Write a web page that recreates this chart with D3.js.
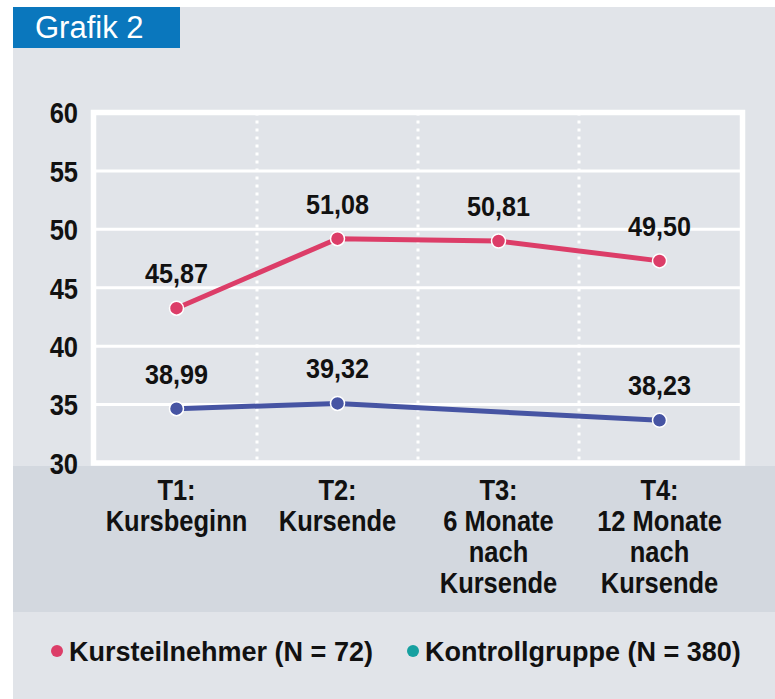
<!DOCTYPE html>
<meta charset="utf-8">
<script src="https://d3js.org/d3.v7.min.js"></script>
<style>
body { margin: 0; background: #fff; }
text { font-family: "Liberation Sans", Arial, sans-serif; }
</style>
<div id="chart"></div>
<script>
// data
var categories = [
  ["T1:", "Kursbeginn"],
  ["T2:", "Kursende"],
  ["T3:", "6 Monate", "nach", "Kursende"],
  ["T4:", "12 Monate", "nach", "Kursende"]
];
var yTicks = [30, 35, 40, 45, 50, 55, 60];
// plotted positions (as drawn) and printed labels
var teilnehmerValues = [43.25, 49.2, 49.0, 47.3];
var teilnehmerLabels = ["45,87", "51,08", "50,81", "49,50"];
var kontrollValues = [34.65, 35.1, null, 33.65];
var kontrollLabels = ["38,99", "39,32", null, "38,23"];
var legendNames = ["Kursteilnehmer (N = 72)", "Kontrollgruppe (N = 380)"];

var width = 775, height = 699;
var red = "#dc3d68", blue = "#4654a3", teal = "#16a0a0";

var svg = d3.select("#chart").append("svg")
  .attr("width", width)
  .attr("height", height);

// no condensed font installed, so squeeze text horizontally
function narrow(sel, sx, xf, yf) {
  sel.attr("transform", function(d, i){
      return "translate(" + xf(d, i) + "," + yf(d, i) + ") scale(" + sx + ",1)";
    })
    .attr("x", 0).attr("y", 0);
}

// backgrounds
svg.append("rect").attr("x", 13).attr("y", 7).attr("width", width - 13).attr("height", height - 7)
  .attr("fill", "#e1e4e9");
svg.append("rect").attr("x", 13).attr("y", 466).attr("width", width - 13).attr("height", 146)
  .attr("fill", "#d3d8df");

// title tab
svg.append("rect").attr("x", 13).attr("y", 7).attr("width", 167).attr("height", 41)
  .attr("fill", "#0a77bd");
svg.append("text").attr("x", 35).attr("y", 38)
  .attr("font-size", 31).attr("fill", "#fff").text("Grafik 2");

// scales
var x = d3.scaleBand().domain(d3.range(categories.length)).range([96, 740]);
var y = d3.scaleLinear().domain([30, 60]).range([463, 112.5]);
var cx = function(i){ return x(i) + x.bandwidth() / 2; };

// gridlines
svg.append("g").selectAll("line").data(yTicks.slice(1, -1)).enter().append("line")
  .attr("x1", 96).attr("x2", 740)
  .attr("y1", function(d){ return y(d); }).attr("y2", function(d){ return y(d); })
  .attr("stroke", "#fff").attr("stroke-width", 3);

// dotted dividers
svg.append("g").selectAll("line").data(d3.range(1, categories.length)).enter().append("line")
  .attr("x1", function(d){ return x(d); }).attr("x2", function(d){ return x(d); })
  .attr("y1", y(60)).attr("y2", y(30))
  .attr("stroke", "#fff").attr("stroke-width", 3).attr("stroke-dasharray", "3,5");

// frame
svg.append("rect").attr("x", 93.5).attr("y", y(60)).attr("width", 649).attr("height", y(30) - y(60))
  .attr("fill", "none").attr("stroke", "#fff").attr("stroke-width", 5.5);

// y tick labels
svg.append("g").selectAll("text").data(yTicks).enter().append("text")
  .attr("dy", "0.36em")
  .attr("text-anchor", "end").attr("font-size", 30).attr("font-weight", "bold")
  .attr("fill", "#111").text(function(d){ return d; })
  .call(narrow, 0.85, function(){ return 78; }, function(d){ return y(d); });

// x labels
categories.forEach(function(lines, i) {
  svg.append("text")
    .attr("transform", "translate(" + cx(i) + ",500) scale(0.85,1)")
    .attr("text-anchor", "middle").attr("font-size", 30).attr("font-weight", "bold")
    .attr("fill", "#111")
    .selectAll("tspan").data(lines).enter().append("tspan")
      .attr("x", 0)
      .attr("dy", function(d, j){ return j === 0 ? 0 : 31; })
      .text(function(d){ return d; });
});

function drawSeries(values, labels, color) {
  var pts = values.map(function(v, i){ return {i: i, v: v, label: labels[i]}; })
    .filter(function(d){ return d.v != null; });
  var line = d3.line()
    .x(function(d){ return cx(d.i); })
    .y(function(d){ return y(d.v); });
  svg.append("path").datum(pts).attr("d", line)
    .attr("fill", "none").attr("stroke", color).attr("stroke-width", 5);
  svg.append("g").selectAll("circle").data(pts).enter().append("circle")
    .attr("cx", function(d){ return cx(d.i); })
    .attr("cy", function(d){ return y(d.v); })
    .attr("r", 7).attr("fill", color).attr("stroke", "#fff").attr("stroke-width", 1.5);
  svg.append("g").selectAll("text").data(pts).enter().append("text")
    .attr("text-anchor", "middle").attr("font-size", 28).attr("font-weight", "bold")
    .attr("fill", "#111").text(function(d){ return d.label; })
    .call(narrow, 0.9, function(d){ return cx(d.i); }, function(d){ return y(d.v) - 25; });
}
drawSeries(teilnehmerValues, teilnehmerLabels, red);
drawSeries(kontrollValues, kontrollLabels, blue);

// legend
var legend = [
  {name: legendNames[0], color: red, x: 57},
  {name: legendNames[1], color: teal, x: 413}
];
var lg = svg.append("g").selectAll("g").data(legend).enter().append("g");
lg.append("circle").attr("cx", function(d){ return d.x; }).attr("cy", 651).attr("r", 6)
  .attr("fill", function(d){ return d.color; });
lg.append("text")
  .attr("font-size", 28).attr("font-weight", "bold")
  .attr("fill", "#111").text(function(d){ return d.name; })
  .call(narrow, 0.965, function(d){ return d.x + 12; }, function(){ return 661; });
</script>
